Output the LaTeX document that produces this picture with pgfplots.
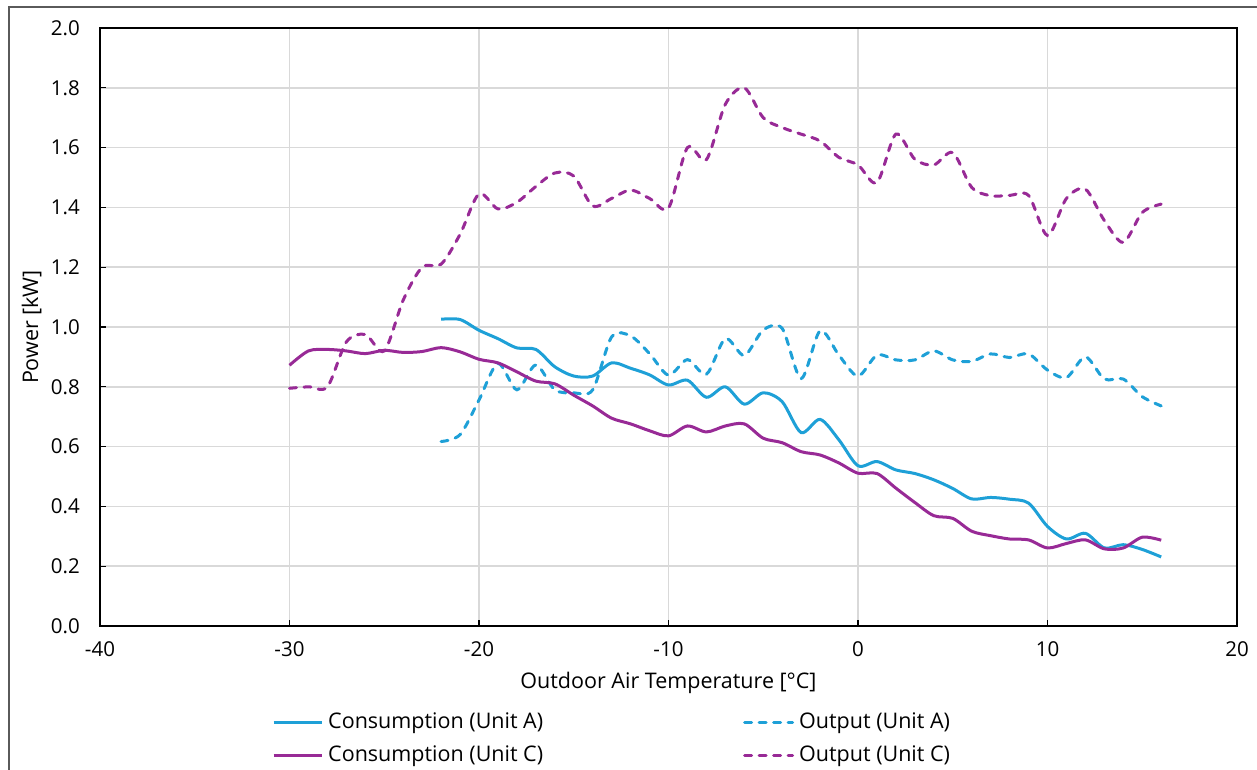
\documentclass[border=0pt]{standalone}
\usepackage{fontspec}
\setmainfont{Open Sans}
\usepackage{pgfplots}
\pgfplotsset{compat=1.18}
\definecolor{cblue}{RGB}{30,160,215}
\definecolor{cpurple}{RGB}{152,42,150}
\definecolor{gridgray}{RGB}{217,217,217}
\definecolor{framegray}{RGB}{90,90,90}
\begin{document}
\fontsize{21.5pt}{26pt}\selectfont
\begin{tikzpicture}
\useasboundingbox (-100pt,-143pt) rectangle (1157pt,626pt);
\draw[framegray, line width=1.5pt, overlay] (-91pt,-300pt) -- (-91pt,619pt) -- (1400pt,619pt);
\begin{axis}[
  at={(0pt,0pt)}, anchor=south west,
  width=1137pt, height=598pt, scale only axis,
  xmin=-40, xmax=20, ymin=0, ymax=2,
  xtick={-40,-30,-20,-10,0,10,20},
  ytick={0,0.2,0.4,0.6,0.8,1.0,1.2,1.4,1.6,1.8,2.0},
  /pgf/number format/assume math mode=true,
  tick label style={font=\fontsize{20.5pt}{24pt}\selectfont},
  yticklabel style={/pgf/number format/fixed, /pgf/number format/fixed zerofill, /pgf/number format/precision=1},
  yticklabel style={anchor=east, inner sep=0pt, xshift=-20pt},
  xticklabel style={anchor=north, inner sep=0pt, yshift=-15pt},
  grid=major, major grid style={gridgray, line width=1.5pt},
  axis line style={black, line width=1.5pt},
  tick style={black, line width=1.2pt}, tick align=inside, major tick length=6pt,
  tick pos=left,
  xlabel={Outdoor Air Temperature [°C]},
  xlabel style={at={(axis description cs:0.5,-0.1037)}, anchor=base, inner sep=0pt},
  ylabel={Power [kW]},
  ylabel style={at={(axis description cs:-0.0545,0.5)}, anchor=base, inner sep=0pt},
  legend columns=2,
  legend cell align=left,
  legend style={at={(axis description cs:0.1513,-0.1438)}, anchor=north west,
    draw=none, fill=none, inner sep=0pt, row sep=12pt,
    nodes={inner sep=0pt, text height=16pt, text depth=5pt},
    /tikz/every even column/.append style={column sep=200pt}},
  legend image code/.code={\draw[#1] (0pt,0pt) -- (48pt,0pt); \path (53pt,0pt);},
]
\addplot[cblue, line width=3pt, smooth, tension=0.5] coordinates {
(-22,1.026) (-21,1.025) (-20,0.989) (-19,0.961) (-18,0.930) (-17,0.925)
(-16,0.867) (-15,0.836) (-14,0.836) (-13,0.880) (-12,0.862) (-11,0.840)
(-10,0.806) (-9,0.822) (-8,0.765) (-7,0.800) (-6,0.742) (-5,0.780)
(-4,0.750) (-3,0.647) (-2,0.691) (-1,0.622) (0,0.536) (1,0.550)
(2,0.522) (3,0.510) (4,0.489) (5,0.460) (6,0.425) (7,0.430)
(8,0.424) (9,0.411) (10,0.333) (11,0.291) (12,0.310) (13,0.261)
(14,0.272) (15,0.256) (16,0.231)};
\addlegendentry{Consumption (Unit A)}
\addplot[cblue, line width=3pt, smooth, tension=0.5, dash pattern=on 7pt off 7.5pt, line cap=round] coordinates {
(-22,0.617) (-21,0.640) (-20,0.756) (-19,0.878) (-18,0.790) (-17,0.873)
(-16,0.790) (-15,0.780) (-14,0.790) (-13,0.967) (-12,0.970) (-11,0.911)
(-10,0.839) (-9,0.891) (-8,0.842) (-7,0.961) (-6,0.905) (-5,0.990)
(-4,0.995) (-3,0.828) (-2,0.987) (-1,0.905) (0,0.836) (1,0.906)
(2,0.890) (3,0.890) (4,0.920) (5,0.890) (6,0.885) (7,0.910)
(8,0.898) (9,0.910) (10,0.856) (11,0.831) (12,0.900) (13,0.826)
(14,0.826) (15,0.767) (16,0.736)};
\addlegendentry{Output (Unit A)}
\addplot[cpurple, line width=3pt, smooth, tension=0.5] coordinates {
(-30,0.872) (-29,0.920) (-28,0.925) (-27,0.920) (-26,0.911) (-25,0.922)
(-24,0.915) (-23,0.918) (-22,0.931) (-21,0.917) (-20,0.892) (-19,0.880)
(-18,0.850) (-17,0.819) (-16,0.810) (-15,0.772) (-14,0.736) (-13,0.695)
(-12,0.676) (-11,0.653) (-10,0.636) (-9,0.669) (-8,0.649) (-7,0.669)
(-6,0.676) (-5,0.628) (-4,0.613) (-3,0.583) (-2,0.572) (-1,0.545)
(0,0.511) (1,0.510) (2,0.461) (3,0.413) (4,0.369) (5,0.360)
(6,0.317) (7,0.302) (8,0.291) (9,0.288) (10,0.261) (11,0.276)
(12,0.288) (13,0.258) (14,0.261) (15,0.297) (16,0.287)};
\addlegendentry{Consumption (Unit C)}
\addplot[cpurple, line width=3pt, smooth, tension=0.5, dash pattern=on 7pt off 7.5pt, line cap=round] coordinates {
(-30,0.795) (-29,0.800) (-28,0.800) (-27,0.950) (-26,0.975) (-25,0.920)
(-24,1.090) (-23,1.200) (-22,1.210) (-21,1.310) (-20,1.445) (-19,1.395)
(-18,1.417) (-17,1.470) (-16,1.515) (-15,1.505) (-14,1.405) (-13,1.430)
(-12,1.458) (-11,1.430) (-10,1.398) (-9,1.600) (-8,1.560) (-7,1.745)
(-6,1.800) (-5,1.700) (-4,1.667) (-3,1.645) (-2,1.622) (-1,1.567)
(0,1.542) (1,1.483) (2,1.645) (3,1.561) (4,1.542) (5,1.583)
(6,1.467) (7,1.439) (8,1.440) (9,1.440) (10,1.306) (11,1.430)
(12,1.461) (13,1.356) (14,1.283) (15,1.383) (16,1.411)};
\addlegendentry{Output (Unit C)}
\end{axis}
\end{tikzpicture}
\end{document}
